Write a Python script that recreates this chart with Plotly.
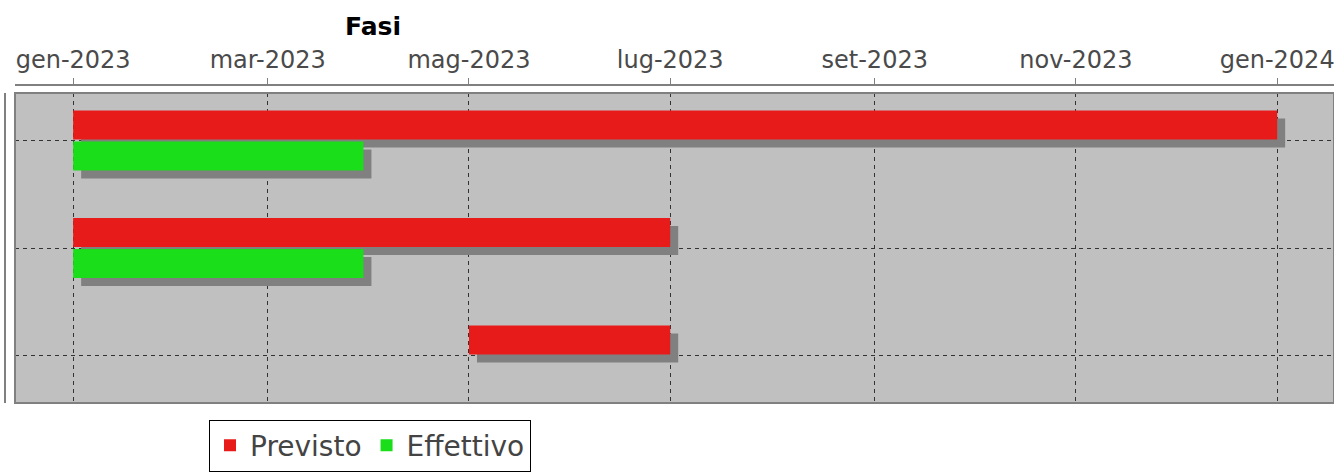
import pandas as pd
import plotly.graph_objects as go

# Dati del diagramma di Gantt
fasi = ["Fase 1", "Fase 2", "Fase 3"]

previsto_inizio = ["2023-01-01", "2023-01-01", "2023-05-01"]
previsto_fine = ["2024-01-01", "2023-07-01", "2023-07-01"]

effettivo_fasi = ["Fase 1", "Fase 2"]
effettivo_inizio = ["2023-01-01", "2023-01-01"]
effettivo_fine = ["2023-03-30", "2023-03-30"]

tick_date = ["2023-01-01", "2023-03-01", "2023-05-01", "2023-07-01",
             "2023-09-01", "2023-11-01", "2024-01-01"]
tick_etichette = ["gen-2023", "mar-2023", "mag-2023", "lug-2023",
                  "set-2023", "nov-2023", "gen-2024"]

ROSSO = "#E81B1B"
VERDE = "#19DE19"
OMBRA = "#808080"
FONT = "DejaVu Sans"

W, H = 1334, 472
M_L, M_R, M_T, M_B = 15, 0, 80, 69
plot_w = W - M_L - M_R
plot_h = H - M_T - M_B
dominio_y = 310 / plot_h

x_range = [pd.Timestamp("2022-12-14 08:53"), pd.Timestamp("2024-01-18 05:30")]
y_range = [2.442, -0.442]

# scostamento dell'ombra (circa 8 px a destra e in basso)
px_giorno = plot_w / ((x_range[1] - x_range[0]).total_seconds() / 86400)
ombra_dx = pd.Timedelta(days=8 / px_giorno)
ombra_dy = 8 / 107.5


def durata(inizio, fine):
    return [(pd.Timestamp(f) - pd.Timestamp(i)).total_seconds() * 1000
            for i, f in zip(inizio, fine)]


fig = go.Figure()

# traccia invisibile per gli assi principali (griglia e tick)
fig.add_trace(go.Bar(
    y=fasi, x=durata(previsto_inizio, previsto_fine), base=previsto_inizio,
    orientation="h", marker=dict(color="rgba(0,0,0,0)", line=dict(width=0)),
    showlegend=False, hoverinfo="skip",
))

serie = [
    ("Previsto", fasi, previsto_inizio, previsto_fine, ROSSO),
    ("Effettivo", effettivo_fasi, effettivo_inizio, effettivo_fine, VERDE),
]

# ombre
for nome, cat, ini, fin, col in serie:
    fig.add_trace(go.Bar(
        y=cat, x=durata(ini, fin), base=ini, orientation="h",
        marker=dict(color=OMBRA, line=dict(width=0)),
        showlegend=False, hoverinfo="skip", xaxis="x2", yaxis="y2",
    ))

# barre
for nome, cat, ini, fin, col in serie:
    fig.add_trace(go.Bar(
        name=nome, y=cat, x=durata(ini, fin), base=ini, orientation="h",
        marker=dict(color=col, line=dict(width=0)),
        xaxis="x3", yaxis="y3",
    ))

asse_y = dict(type="category", categoryarray=fasi, showticklabels=False,
              domain=[0, dominio_y])

fig.update_layout(
    width=W, height=H,
    margin=dict(l=M_L, r=M_R, t=M_T, b=M_B, autoexpand=False),
    paper_bgcolor="white",
    plot_bgcolor="#C0C0C0",
    barmode="group",
    bargap=0.4233,
    bargroupgap=0.065,
    title=dict(text="Fasi", x=373 / W, xref="container", xanchor="center",
               y=1 - 26 / H, yref="container", yanchor="middle",
               font=dict(family=FONT, size=25, color="black", weight="bold")),
    xaxis=dict(
        type="date", range=x_range, side="top", anchor="free",
        position=(403 - 85) / plot_h,
        tickmode="array", tickvals=tick_date, ticktext=tick_etichette,
        ticks="outside", ticklen=6, tickcolor=OMBRA, tickwidth=1,
        ticklabeloverflow="allow",
        showline=True, linecolor=OMBRA, linewidth=2,
        showgrid=True, gridcolor="#333333", gridwidth=1, griddash="4px,4px",
        tickfont=dict(family=FONT, size=24, color="#4a4a4a"),
        zeroline=False,
    ),
    yaxis=dict(**asse_y, range=y_range, showgrid=True, gridcolor="#333333",
               gridwidth=1, griddash="4px,4px", ticks="", zeroline=False),
    xaxis2=dict(type="date", overlaying="x", visible=False,
                range=[x_range[0] - ombra_dx, x_range[1] - ombra_dx]),
    yaxis2=dict(**asse_y, overlaying="y", visible=False,
                range=[y_range[0] - ombra_dy, y_range[1] - ombra_dy]),
    xaxis3=dict(type="date", overlaying="x", visible=False, range=x_range),
    yaxis3=dict(**asse_y, overlaying="y", visible=False, range=y_range),
    legend=dict(
        orientation="h", x=(209 - M_L) / plot_w, xanchor="left",
        y=(403 - 445.5) / plot_h, yanchor="middle",
        bordercolor="black", borderwidth=1, bgcolor="white",
        font=dict(family=FONT, size=28, color="#444444"),
        itemwidth=30, itemclick=False,
    ),
    shapes=[
        dict(type="rect", xref="paper", yref="paper", x0=0, x1=1,
             y0=0, y1=dominio_y, line=dict(color=OMBRA, width=2), layer="above"),
        dict(type="line", xref="paper", yref="paper",
             x0=-10 / plot_w, x1=-10 / plot_w, y0=0, y1=dominio_y,
             line=dict(color=OMBRA, width=2)),
    ],
)

# la pagina di default ha un margine di 8px sul body
fig.write_html("out.html", config={"displayModeBar": False},
               post_script="document.body.style.margin = '0';")
